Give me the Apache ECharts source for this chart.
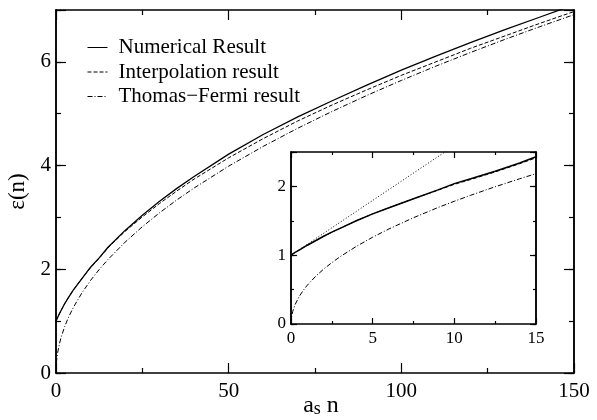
<!DOCTYPE html>
<html>
<head>
<meta charset="utf-8">
<script src="https://cdn.jsdelivr.net/npm/echarts@6/dist/echarts.min.js"></script>
<style>
  html, body { margin: 0; padding: 0; background: #fff; }
  #chart { width: 597px; height: 420px; }
</style>
</head>
<body>
<div id="chart"></div>
<script>
// main panel, a_s n from 0 to 150
const xMain = [0, 0.1, 0.25, 0.5, 1, 1.5, 2.5, 3.5, 5, 7.5, 10, 12.5, 15, 20, 25, 30, 35, 40, 50, 60, 70, 80, 90, 100, 110, 120, 130, 140, 150];
const numMain = [1, 1.015, 1.04, 1.075, 1.145, 1.21, 1.335, 1.445, 1.6, 1.82, 2.04, 2.22, 2.42, 2.75, 3.04, 3.31, 3.56, 3.79, 4.22, 4.6, 4.94, 5.25, 5.55, 5.84, 6.11, 6.37, 6.62, 6.86, 7.1];
const interpMain = [1, 1.015, 1.04, 1.075, 1.145, 1.21, 1.335, 1.445, 1.6, 1.82, 2.03, 2.21, 2.41, 2.73, 3.01, 3.27, 3.51, 3.74, 4.15, 4.52, 4.86, 5.17, 5.46, 5.74, 6.0, 6.26, 6.5, 6.74, 6.97];
const tfMain = [0, 0.178, 0.282, 0.399, 0.564, 0.691, 0.892, 1.056, 1.262, 1.545, 1.784, 1.995, 2.185, 2.523, 2.821, 3.09, 3.338, 3.568, 3.989, 4.37, 4.72, 5.046, 5.352, 5.642, 5.917, 6.18, 6.433, 6.676, 6.91];

// inset, a_s n from 0 to 15
const xInset = [0, 0.05, 0.1, 0.25, 0.5, 0.75, 1, 1.5, 2, 2.5, 3, 4, 5, 6, 7.5, 9, 10, 11, 12.5, 14, 15];
const numInset = [1, 1.008, 1.015, 1.04, 1.075, 1.11, 1.145, 1.21, 1.275, 1.335, 1.39, 1.5, 1.6, 1.69, 1.82, 1.95, 2.04, 2.11, 2.22, 2.34, 2.43];
const interpInset = [1, 1.008, 1.015, 1.04, 1.075, 1.11, 1.145, 1.21, 1.275, 1.335, 1.39, 1.5, 1.6, 1.69, 1.82, 1.945, 2.03, 2.1, 2.21, 2.33, 2.415];
const tfInset = [0, 0.126, 0.178, 0.282, 0.399, 0.489, 0.564, 0.691, 0.798, 0.892, 0.977, 1.128, 1.262, 1.382, 1.545, 1.693, 1.784, 1.871, 1.995, 2.111, 2.185];
// dotted small-n line (leaves the inset at the top)
const pertX = [0, 5, 10];
const pertY = [1, 1.796, 2.592];

const names = ['Numerical Result', 'Interpolation result', 'Thomas\u2212Fermi result'];
const mainYLabels = [0, 2, 4, 6];
const insetYLabels = [0, 1, 2];

const FONT = 'Liberation Serif';
const BLACK = '#000';

function pairs(xs, ys) {
  return xs.map(function(x, i) { return [x, ys[i]]; });
}

function xAx(grid, pos, max, step, len, showLabel, fs, extra) {
  return Object.assign({
    type: 'value', gridIndex: grid, position: pos, min: 0, max: max, interval: step,
    axisLine: { show: true, onZero: false, lineStyle: { color: BLACK, width: 1.5 } },
    axisTick: { show: true, inside: true, length: len, lineStyle: { color: BLACK, width: 1.2 } },
    minorTick: { show: true, splitNumber: 2, length: len / 2, lineStyle: { color: BLACK, width: 1.2 } },
    axisLabel: { show: showLabel, color: BLACK, fontFamily: FONT, fontSize: fs, margin: fs > 18 ? 8 : 6 },
    splitLine: { show: false }
  }, extra || {});
}

function yAx(grid, pos, max, step, len, labels, fs, extra) {
  return Object.assign({
    type: 'value', gridIndex: grid, position: pos, min: 0, max: max, interval: step,
    axisLine: { show: true, onZero: false, lineStyle: { color: BLACK, width: 1.5 } },
    axisTick: { show: true, inside: true, length: len, lineStyle: { color: BLACK, width: 1.2 } },
    axisLabel: {
      show: !!labels, color: BLACK, fontFamily: FONT, fontSize: fs, margin: 5,
      formatter: function(v) { return labels && labels.indexOf(v) >= 0 ? String(v) : ''; }
    },
    splitLine: { show: false }
  }, extra || {});
}

function lineSeries(name, data, xi, yi, type, width) {
  return {
    name: name, type: 'line', xAxisIndex: xi, yAxisIndex: yi,
    data: data, symbol: 'none', smooth: false, clip: true,
    lineStyle: { color: BLACK, width: width, type: type },
    itemStyle: { color: BLACK },
    silent: true
  };
}

const chart = echarts.init(document.getElementById('chart'), null, { renderer: 'canvas' });
const option = {
  animation: false,
  backgroundColor: '#fff',
  grid: [
    { left: 56, right: 23, top: 10, bottom: 47, outerBoundsMode: 'none' },
    { left: 291, right: 61, top: 152, bottom: 96, outerBoundsMode: 'none', show: true, backgroundColor: '#fff', borderWidth: 0 }
  ],
  legend: {
    data: names,
    orient: 'vertical', left: 82, top: 32,
    itemWidth: 20, itemHeight: 14, itemGap: 3.5,
    itemStyle: { color: 'rgba(0,0,0,0)', borderWidth: 0, opacity: 0 },
    lineStyle: { width: 1 },
    textStyle: { color: BLACK, fontFamily: FONT, fontSize: 21, padding: [0, 0, 0, 6] },
    selectedMode: false
  },
  xAxis: [
    xAx(0, 'bottom', 150, 50, 10, true, 21, {
      name: '{a|a}{s|s}{a| n}', nameLocation: 'middle', nameGap: 21, nameMoveOverlap: false,
      nameTextStyle: {
        padding: [0, 0, 0, 12],
        rich: {
          a: { fontFamily: FONT, fontSize: 24, color: BLACK, lineHeight: 24, verticalAlign: 'middle' },
          s: { fontFamily: FONT, fontSize: 18, color: BLACK, lineHeight: 18, verticalAlign: 'bottom', padding: [12, 0, 0, 0] }
        }
      }
    }),
    xAx(0, 'top', 150, 50, 10, false, 21),
    xAx(1, 'bottom', 15, 5, 6, true, 17),
    xAx(1, 'top', 15, 5, 6, false, 17)
  ],
  yAxis: [
    yAx(0, 'left', 7, 1, 5, mainYLabels, 21, {
      name: '\u03b5(n)', nameLocation: 'middle', nameGap: 23,
      nameTextStyle: { fontFamily: FONT, fontSize: 23, color: BLACK }
    }),
    yAx(0, 'left', 7, 2, 10, null, 21),
    yAx(0, 'right', 7, 1, 5, null, 21),
    yAx(0, 'right', 7, 2, 10, null, 21),
    yAx(1, 'left', 2.5, 0.5, 3, insetYLabels, 17),
    yAx(1, 'left', 2.5, 1, 6, null, 17),
    yAx(1, 'right', 2.5, 0.5, 3, null, 17),
    yAx(1, 'right', 2.5, 1, 6, null, 17)
  ],
  series: [
    lineSeries(names[0], pairs(xMain, numMain), 0, 0, 'solid', 1.3),
    lineSeries(names[1], pairs(xMain, interpMain), 0, 0, [4, 2], 1),
    lineSeries(names[2], pairs(xMain, tfMain), 0, 0, [5, 2, 1, 2], 1),
    lineSeries('inset numerical', pairs(xInset, numInset), 2, 4, 'solid', 1.5),
    lineSeries('inset interpolation', pairs(xInset, interpInset), 2, 4, [4, 2], 1),
    lineSeries('inset Thomas-Fermi', pairs(xInset, tfInset), 2, 4, [5, 2, 1, 2], 1),
    lineSeries('inset small n', pairs(pertX, pertY), 2, 4, [1, 2], 1)
  ]
};
chart.setOption(option);
</script>
</body>
</html>
